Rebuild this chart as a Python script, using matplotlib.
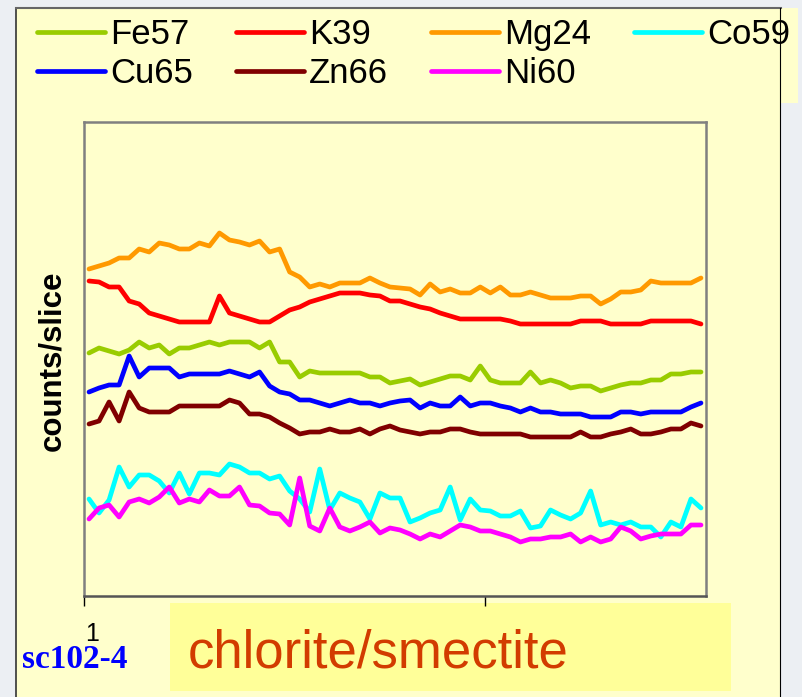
import numpy as np
import matplotlib.pyplot as plt
from matplotlib.patches import Rectangle
from matplotlib.lines import Line2D

# slice numbers 1..62
slices = np.arange(1, 63)

# counts per slice for each isotope
fe57 = [243, 248, 245, 242, 246, 254, 248, 251, 242, 248, 248, 251, 254, 251, 254, 254, 254, 248, 254, 234,
        234, 219, 225, 223, 223, 223, 223, 223, 219, 219, 213, 215, 217, 211, 214, 217, 220, 220, 216, 230,
        216, 213, 213, 213, 224, 213, 216, 213, 208, 210, 210, 205, 208, 211, 213, 213, 216, 216, 222, 222,
        224, 224]
k39 = [315, 314, 309, 309, 295, 292, 283, 280, 277, 274, 274, 274, 274, 300, 283, 280, 277, 274, 274, 280,
       286, 289, 294, 297, 300, 303, 303, 303, 301, 300, 295, 295, 292, 289, 287, 283, 280, 277, 277, 277,
       277, 277, 275, 272, 272, 272, 272, 272, 272, 275, 275, 275, 272, 272, 272, 272, 275, 275, 275, 275,
       275, 272]
mg24 = [327, 330, 333, 338, 338, 347, 344, 353, 351, 347, 347, 353, 350, 363, 356, 354, 351, 355, 344, 347,
        324, 319, 309, 312, 309, 313, 313, 313, 318, 313, 309, 308, 307, 301, 312, 304, 307, 303, 303, 309,
        303, 309, 301, 301, 304, 301, 298, 298, 298, 300, 300, 292, 297, 304, 304, 306, 315, 313, 313, 313,
        313, 318]
co59 = [97, 83, 96, 129, 109, 121, 121, 115, 103, 123, 102, 123, 123, 121, 132, 129, 123, 123, 117, 120,
        105, 97, 84, 127, 86, 103, 98, 94, 77, 103, 98, 98, 74, 78, 83, 86, 109, 76, 97, 86,
        85, 80, 80, 85, 68, 70, 86, 81, 77, 83, 105, 71, 74, 71, 74, 69, 69, 59, 74, 69,
        97, 88]
cu65 = [204, 208, 211, 211, 240, 219, 228, 228, 228, 219, 222, 222, 222, 222, 225, 222, 219, 224, 210, 204,
        202, 196, 196, 193, 190, 193, 196, 193, 193, 190, 193, 195, 196, 188, 193, 190, 190, 199, 190, 193,
        193, 190, 188, 184, 188, 184, 184, 182, 182, 182, 179, 179, 179, 184, 184, 182, 184, 184, 184, 184,
        189, 193]
zn66 = [172, 175, 194, 175, 204, 188, 184, 184, 184, 190, 190, 190, 190, 190, 196, 193, 182, 182, 179, 173,
        168, 162, 164, 164, 167, 164, 164, 167, 162, 167, 170, 166, 164, 162, 164, 164, 167, 167, 164, 162,
        162, 162, 162, 162, 159, 159, 159, 159, 159, 164, 159, 159, 162, 164, 167, 162, 162, 164, 167, 167,
        173, 170]
ni60 = [77, 88, 91, 79, 94, 97, 93, 99, 109, 93, 97, 94, 106, 100, 100, 109, 91, 90, 83, 82,
        71, 118, 70, 65, 88, 69, 65, 69, 74, 63, 68, 66, 62, 57, 62, 59, 65, 71, 69, 65,
        65, 62, 59, 54, 57, 57, 59, 59, 62, 54, 59, 54, 57, 69, 65, 57, 60, 62, 62, 62,
        71, 71]

names = ['Fe57', 'K39', 'Mg24', 'Co59', 'Cu65', 'Zn66', 'Ni60']
series = [fe57, k39, mg24, co59, cu65, zn66, ni60]
colors = ['#99cc00', '#ff0000', '#ff9900', '#00ffff', '#0000ff', '#800000', '#ff00ff']

W, H = 803, 697
plt.rcParams['font.family'] = ['Liberation Sans', 'DejaVu Sans']

fig = plt.figure(figsize=(W / 100, H / 100), dpi=100)
fig.patch.set_facecolor('#eceff3')

def fx(x):  # pixel -> figure coords
    return x / W

def fy(y):
    return 1 - y / H

# yellow slide panel and the legend strip
fig.patches.append(Rectangle((fx(16), 0), fx(781) - fx(16), fy(8), transform=fig.transFigure,
                             facecolor='#ffffcc', edgecolor='none', zorder=0))
fig.patches.append(Rectangle((fx(20), fy(103)), fx(798) - fx(20), fy(8) - fy(103), transform=fig.transFigure,
                             facecolor='#ffffcc', edgecolor='none', zorder=0))
fig.add_artist(Line2D([fx(16), fx(16)], [0, fy(8)], color='#333333', lw=1.2, zorder=0.5))
fig.add_artist(Line2D([fx(16), fx(781)], [fy(8), fy(8)], color='#666666', lw=1.5, zorder=0.5))
fig.add_artist(Line2D([fx(780.5), fx(780.5)], [0, fy(8)], color='#000000', lw=0.8, zorder=0.5))

ax = fig.add_axes([fx(84), fy(596), fx(706) - fx(84), (596 - 122) / H], zorder=2)
ax.set_facecolor('#ffffcc')
for name, vals, c in zip(names, series, colors):
    ax.plot(slices, vals, color=c, lw=3.4, label=name, solid_joinstyle='round', solid_capstyle='round')

ax.set_xlim(0.5, 62.5)
ax.set_ylim(0, 474)
ax.set_yticks([])
ax.set_xticks([0.5, 40.5])
ax.set_xticklabels(['', ''])
ax.tick_params(axis='x', direction='out', length=7, width=1, color='black')
for s in ax.spines.values():
    s.set_color('#808080')
    s.set_linewidth(1.8)
ax.spines['bottom'].set_color('#555555')
ax.text(1.3, -0.08, '1', transform=ax.get_xaxis_transform(), fontsize=18, ha='center', va='center')

fig.text(fx(52), fy(361), 'counts/slice', rotation=90, fontsize=22.5, fontweight='bold',
         ha='center', va='center')

# legend filled column by column, so reorder to read row by row
order = [0, 4, 1, 5, 2, 6, 3]
lines = ax.get_lines()
fig.legend([lines[i] for i in order], [names[i] for i in order],
           loc='upper left', bbox_to_anchor=(fx(37), fy(18), fx(790) - fx(37), 0.0),
           mode='expand', ncol=4, frameon=False, fontsize=25, handlelength=1.95,
           handletextpad=0.15, labelspacing=0.18, borderaxespad=0, borderpad=0)

fig.patches.append(Rectangle((fx(170), fy(691)), fx(731) - fx(170), fy(603) - fy(691),
                             transform=fig.transFigure, facecolor='#ffff99', edgecolor='none', zorder=1))
fig.text(fx(188), fy(668), 'chlorite/smectite', fontsize=38, color='#d23c00', ha='left', va='baseline')
fig.text(fx(22), fy(668), 'sc102-4', fontsize=24, fontweight='bold', color='#0000ff',
         family='Liberation Serif', ha='left', va='baseline')

fig.savefig('out.png', dpi=100, facecolor=fig.get_facecolor())
